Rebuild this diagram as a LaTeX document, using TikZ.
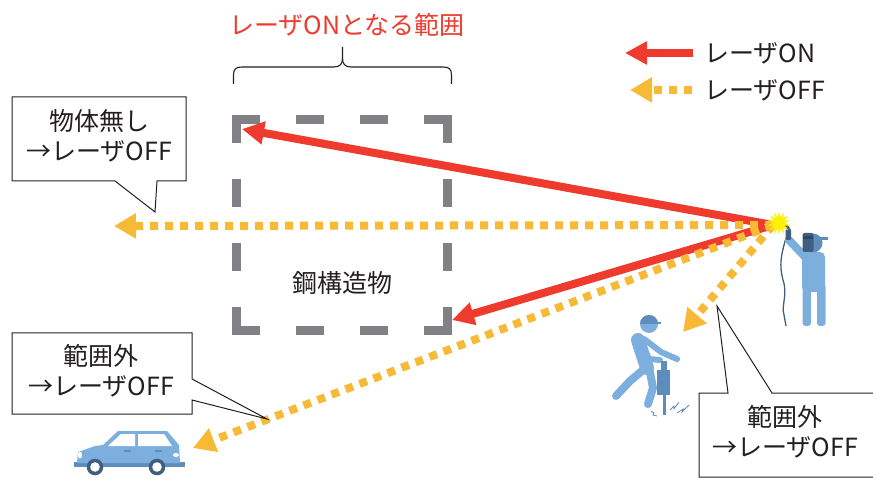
\documentclass[tikz,border=0pt]{standalone}
\usepackage{fontspec}
\setmainfont{Noto Sans CJK JP}
\usetikzlibrary{arrows.meta, shapes.geometric}
\definecolor{cred}{HTML}{EE3B2D}
\definecolor{cyellow}{HTML}{F6BA36}
\definecolor{cgrey}{HTML}{818185}
\definecolor{cink}{HTML}{231F20}
\definecolor{clight}{HTML}{7DAFDE}
\definecolor{cmid}{HTML}{5F8DBB}
\definecolor{cnavy}{HTML}{3F5F82}
\definecolor{cspark}{HTML}{FFF200}
\tikzset{
  every picture/.style={line join=miter},
  onbeam/.style={draw=cred, line width=8pt, -{Triangle[length=22pt, width=22pt]}},
  offbeam/.style={draw=cyellow, line width=8pt, dash pattern=on 8pt off 7pt, -{Triangle[length=22pt, width=24pt]}},
  bubble/.style={draw=cink, fill=white, line width=1pt},
  msg/.style={text=cink, align=center, inner sep=0pt, font=\fontsize{25}{30}\selectfont},
  steelbox/.style={draw=cgrey, line width=9pt, dash pattern=on 28pt off 36pt},
  figure/.style={fill=clight},
}

\begin{document}
\begin{tikzpicture}[x=1pt, y=-1pt]
  \clip (0,0) rectangle (873,478);

  % steel structure: dashed square, each side starts at an outer corner
  \draw[steelbox] (232,119.5) -- (452,119.5) (447.5,115) -- (447.5,335)
    (452,330.5) -- (232,330.5) (236.5,335) -- (236.5,115);
  \node[msg] (steel) at (342,283) {鋼構造物};

  % range brace and its caption
  \node[msg, text=cred] (rangelbl) at (347,25) {レーザONとなる範囲};
  \draw[cink, line width=1.1pt] (233.5,84) -- (233.5,75) .. controls (233.5,69) and (236,67) .. (242,67)
    -- (334,67) .. controls (340,67) and (342.5,64) .. (342.5,58) -- (342.5,47);
  \draw[cink, line width=1.1pt] (451.5,84) -- (451.5,75) .. controls (451.5,69) and (449,67) .. (443,67)
    -- (351,67) .. controls (345,67) and (342.5,64) .. (342.5,58);

  % beam end points
  \coordinate (beam) at (773,225);
  \coordinate (hitNW) at (242,129);
  \coordinate (hitSE) at (452,320);
  \coordinate (pastL) at (114,226);
  \coordinate (pastcar) at (193,448);
  \coordinate (pastman) at (683,332);

  \draw[onbeam] (beam) -- (hitNW);
  \draw[onbeam] (beam) -- (hitSE);
  \draw[offbeam] (beam) -- (pastL);
  \draw[offbeam] (beam) -- (pastcar);
  \draw[offbeam] (beam) -- (pastman);

  % legend
  \node[msg, anchor=west] (keyon) at (704,53) {レーザON};
  \node[msg, anchor=west] (keyoff) at (704,90) {レーザOFF};
  \coordinate (keyonA) at (693,53);
  \coordinate (keyonB) at (625,53);
  \coordinate (keyoffA) at (692,90);
  \coordinate (keyoffB) at (630,90);
  \draw[onbeam] (keyonA) -- (keyonB);
  \draw[offbeam] (keyoffA) -- (keyoffB);

  % speech bubbles
  \draw[bubble] (12,97) -- (186,97) -- (186,181) -- (157,181) -- (155,212) -- (115,181) -- (12,181) -- cycle;
  \node[msg] (offA) at (99,136) {物体無し\\→レーザOFF};
  \draw[bubble] (12,333) -- (192,333) -- (192,379) -- (267,419) -- (192,400) -- (192,414) -- (12,414) -- cycle;
  \node[msg] (offB) at (101,371) {範囲外\\→レーザOFF};
  \draw[bubble] (699,477) -- (699,393) -- (728,393) -- (717,306) -- (772,393) -- (880,393) -- (880,477) -- cycle;
  \node[msg] (offC) at (785,432) {範囲外\\→レーザOFF};

  % welder
  \draw[cnavy, line width=1.3pt] (786,238) .. controls (781,255) and (779,265) .. (783,280)
    .. controls (788,295) and (781,305) .. (784,315) -- (786,326);
  \fill[figure, rounded corners=5pt] (802,252) rectangle (825,292);
  \fill[figure, rounded corners=3pt] (802.5,284) rectangle (811,326);
  \fill[figure, rounded corners=3pt] (817,284) rectangle (825.5,326);
  \draw[clight, line width=8pt, line cap=round] (789,240) -- (806,258);
  \draw[cnavy, line width=2.5pt] (789,232) .. controls (789,226) and (786,224) .. (781,224);
  \fill[cnavy, rounded corners=1pt] (785.5,229) rectangle (791,240);
  \fill[cmid] (813,243) circle (9.5);
  \fill[cmid] (820,237.5) rectangle (828,240);
  \fill[cnavy, rounded corners=2pt] (802.5,233) rectangle (813.5,252);
  \fill[cnavy!75!black] (803,236) rectangle (813,239.5);
  \node[star, star points=14, star point ratio=2, fill=cspark, minimum size=24pt, inner sep=0pt] (spark) at (779,223) {};

  % worker with a jackhammer
  \fill[clight] (649,324) circle (9);
  \begin{scope}
    \clip (638,312) rectangle (662,324);
    \fill[cmid] (649,324) circle (9);
  \end{scope}
  \fill[cmid] (655,322) rectangle (661,324.5);
  \draw[clight, line width=14pt, line cap=round] (638,340) -- (647,368);
  \draw[clight, line width=8pt, line cap=round] (643,370) -- (630,381) -- (616,396);
  \draw[clight, line width=8pt, line cap=round] (650,372) -- (653,388) -- (648,404);
  \draw[clight, line width=6pt, line cap=round] (639,340) -- (649,359) -- (660,360);
  \draw[clight, line width=6pt, line cap=round] (644,339) -- (661,352) -- (677,359);
  \fill[cmid] (661,361) rectangle (667,370);
  \fill[cmid] (657,370) rectangle (670,395);
  \fill[cmid] (662.5,395) rectangle (665.5,415);
  \draw[cmid, line width=0.8pt] (651,411) -- (654,413) -- (653,415) -- (657,416);
  \draw[cmid, line width=0.8pt] (670,410) -- (674,406) -- (674,409) -- (679,402);
  \draw[cmid, line width=0.8pt] (677,413) -- (683,409) -- (682,412) -- (689,405);

  % car
  \fill[cmid] (74,462) rectangle (185,467);
  \fill[figure] (77,463) -- (78,452) -- (95,446) -- (103,445) -- (118,431) -- (167,431) -- (179,445) -- (180,463) -- cycle;
  \fill[white] (108,446) -- (121,434) -- (135,434) -- (135,446) -- cycle;
  \fill[white] (138,434) -- (164,434) -- (172,446) -- (138,446) -- cycle;
  \fill[cmid] (124,450) rectangle (131,452);
  \fill[cmid] (155,450) rectangle (162,452);
  \fill[white] (80,455) ellipse (2 and 3.5);
  \fill[white] (176,455) ellipse (3 and 2);
  \foreach \w in {95,157} {
    \fill[cnavy] (\w,467) circle (8.3);
    \fill[white] (\w,467) circle (4.8);
  }
\end{tikzpicture}
\end{document}
